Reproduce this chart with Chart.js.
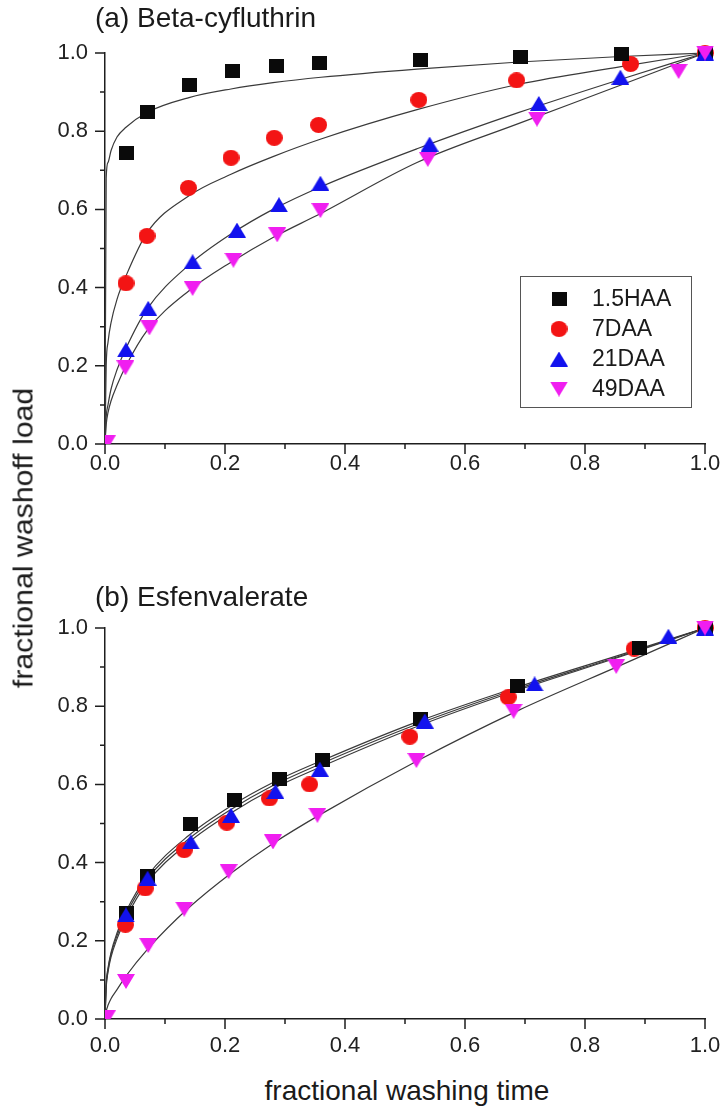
<!DOCTYPE html>
<html>
<head>
<meta charset="utf-8">
<script src="https://cdn.jsdelivr.net/npm/chart.js@4.4.1/dist/chart.umd.min.js"></script>
<style>
  html, body { margin: 0; padding: 0; background: #fff; overflow: hidden; }
  #wrap { position: relative; width: 721px; height: 1107px; overflow: hidden;
          font-family: "Liberation Sans", Arial, sans-serif; color: #1a1a1a; }
  #wrap canvas { position: absolute; left: 0; }
  .lbl { position: absolute; white-space: nowrap; line-height: 1; }
</style>
</head>
<body>
<div id="wrap">
  <canvas id="chart-a" width="740" height="490" style="top:0"></canvas>
  <canvas id="chart-b" width="740" height="500" style="top:560px"></canvas>
  <div class="lbl" style="left:95px; top:4px; font-size:28px;">(a) Beta-cyfluthrin</div>
  <div class="lbl" style="left:95px; top:583px; font-size:28px;">(b) Esfenvalerate</div>
  <div class="lbl" style="left:24px; top:538px; font-size:27px; transform:translate(-50%,-50%) rotate(-90deg) scaleX(1.12);">fractional washoff load</div>
  <div class="lbl" style="left:407px; top:1091px; font-size:28px; transform:translate(-50%,-50%);">fractional washing time</div>
</div>
<script>
// washoff curves, two panels

const seriesNames = ["1.5HAA", "7DAA", "21DAA", "49DAA"];
const seriesColors = ["#0a0a0a", "#f31414", "#1212ee", "#f01ef0"];
const majorTicks = [0, 0.2, 0.4, 0.6, 0.8, 1.0];
const tickLabels = ["0.0", "0.2", "0.4", "0.6", "0.8", "1.0"];
const minorTicks = [0.1, 0.3, 0.5, 0.7, 0.9];

// (a) Beta-cyfluthrin, measured points
const aHAAx = [0.036, 0.07, 0.141, 0.213, 0.285, 0.358, 0.525, 0.693, 0.861, 1.0];
const aHAAy = [0.743, 0.848, 0.917, 0.955, 0.966, 0.974, 0.983, 0.990, 0.997, 1.0];
const a7x   = [0.035, 0.07, 0.139, 0.21, 0.282, 0.356, 0.523, 0.686, 0.876, 1.0];
const a7y   = [0.411, 0.532, 0.655, 0.732, 0.783, 0.816, 0.880, 0.930, 0.972, 1.0];
const a21x  = [0.035, 0.072, 0.146, 0.22, 0.29, 0.359, 0.541, 0.723, 0.859, 1.0];
const a21y  = [0.241, 0.347, 0.466, 0.547, 0.612, 0.667, 0.767, 0.871, 0.938, 1.0];
const a49x  = [0.003, 0.034, 0.074, 0.146, 0.214, 0.287, 0.359, 0.538, 0.72, 0.956, 1.0];
const a49y  = [0.003, 0.195, 0.297, 0.398, 0.47, 0.535, 0.597, 0.728, 0.831, 0.953, 1.0];

// (a) fitted curves
const fitX     = [0, 0.002, 0.005, 0.01, 0.02, 0.035, 0.07, 0.14, 0.21, 0.28, 0.36, 0.52, 0.69, 0.86, 1.0];
const aFitHAA  = [0, 0.68, 0.72, 0.75, 0.785, 0.81, 0.848, 0.886, 0.908, 0.924, 0.938, 0.959, 0.977, 0.991, 1.0];
const aFit7    = [0, 0.2, 0.26, 0.31, 0.37, 0.43, 0.54, 0.635, 0.69, 0.735, 0.78, 0.855, 0.92, 0.965, 1.0];
const aFit21   = [0, 0.07, 0.1, 0.14, 0.19, 0.245, 0.345, 0.458, 0.537, 0.6, 0.658, 0.755, 0.848, 0.933, 1.0];
const aFit49   = [0, 0.05, 0.08, 0.11, 0.15, 0.2, 0.29, 0.392, 0.465, 0.528, 0.59, 0.72, 0.82, 0.918, 1.0];

// (b) Esfenvalerate, measured points
const bHAAx = [0.035, 0.071, 0.143, 0.215, 0.29, 0.362, 0.525, 0.688, 0.89, 1.0];
const bHAAy = [0.27, 0.365, 0.50, 0.56, 0.614, 0.663, 0.766, 0.851, 0.95, 1.0];
const b7x   = [0.034, 0.067, 0.132, 0.203, 0.274, 0.341, 0.508, 0.672, 0.882, 1.0];
const b7y   = [0.241, 0.334, 0.432, 0.502, 0.564, 0.600, 0.722, 0.823, 0.947, 1.0];
const b21x  = [0.035, 0.071, 0.143, 0.21, 0.284, 0.358, 0.533, 0.716, 0.939, 1.0];
const b21y  = [0.266, 0.36, 0.453, 0.521, 0.582, 0.639, 0.762, 0.857, 0.979, 1.0];
const b49x  = [0.003, 0.035, 0.072, 0.132, 0.206, 0.28, 0.354, 0.519, 0.681, 0.852, 1.0];
const b49y  = [0.003, 0.096, 0.188, 0.281, 0.377, 0.453, 0.521, 0.661, 0.787, 0.902, 1.0];

// (b) fitted curves
const bFitHAA = [0, 0.09, 0.13, 0.17, 0.22, 0.275, 0.365, 0.47, 0.545, 0.605, 0.66, 0.76, 0.85, 0.932, 1.0];
const bFit7   = [0, 0.08, 0.12, 0.158, 0.205, 0.258, 0.348, 0.452, 0.527, 0.589, 0.645, 0.748, 0.842, 0.927, 1.0];
const bFit21  = [0, 0.085, 0.125, 0.165, 0.213, 0.267, 0.357, 0.461, 0.536, 0.597, 0.653, 0.754, 0.846, 0.929, 1.0];
const bFit49  = [0, 0.02, 0.035, 0.052, 0.075, 0.11, 0.177, 0.285, 0.373, 0.449, 0.524, 0.66, 0.79, 0.905, 1.0];

const AXIS = "#1e1e1e";
const FONT = '"Liberation Sans", Arial, sans-serif';
const MARKER_SIZE = { square: [15, 14], circle: [17, 16], up: [18, 15], down: [18, 15] };
const shapes = ["square", "circle", "up", "down"];
const drawOrder = [3, 4, 2, 1];   // lower = on top

function pts(xs, ys) { return xs.map((x, i) => ({ x, y: ys[i] })); }

function marker(shape, color) {
  const [w, h] = MARKER_SIZE[shape];
  const c = document.createElement("canvas");
  c.width = w; c.height = h;
  const g = c.getContext("2d");
  g.fillStyle = color;
  g.beginPath();
  if (shape === "square") g.rect(0, 0, w, h);
  else if (shape === "circle") g.ellipse(w / 2, h / 2, w / 2, h / 2, 0, 0, Math.PI * 2);
  else if (shape === "up") { g.moveTo(w / 2, 0); g.lineTo(w, h); g.lineTo(0, h); g.closePath(); }
  else { g.moveTo(0, 0); g.lineTo(w, 0); g.lineTo(w / 2, h); g.closePath(); }
  g.fill();
  return c;
}
const markers = shapes.map((s, i) => marker(s, seriesColors[i]));

function panelDatasets(markX, markY, fitY) {
  const sets = [];
  fitY.forEach((ys, k) => sets.push({
    label: "fit " + seriesNames[k], data: pts(fitX, ys), showLine: true,
    borderColor: "#3a3a3a", borderWidth: 1.2, pointRadius: 0,
    cubicInterpolationMode: "monotone", order: 10, clip: false,
  }));
  markY.forEach((ys, k) => sets.push({
    label: seriesNames[k], data: pts(markX[k], ys), showLine: false,
    pointStyle: markers[k], pointRadius: 9, order: drawOrder[k],
    clip: { left: 0, bottom: 0, top: false, right: false },
  }));
  return sets;
}

// tick marks drawn by hand: long major, short minor, outward
const tickMarks = {
  id: "tickMarks",
  afterDraw(chart) {
    const { ctx, scales: { x, y } } = chart;
    ctx.save();
    ctx.strokeStyle = AXIS; ctx.lineWidth = 1.5;
    ctx.beginPath();
    const all = majorTicks.map(v => [v, 10]).concat(minorTicks.map(v => [v, 5]));
    all.forEach(([v, len]) => {
      const px = x.getPixelForValue(v), py = y.getPixelForValue(v);
      ctx.moveTo(px, x.top); ctx.lineTo(px, x.top + len);
      ctx.moveTo(y.right, py); ctx.lineTo(y.right - len, py);
    });
    ctx.stroke();
    ctx.restore();
  },
};

const legendBox = {
  id: "legendBox",
  afterDraw(chart) {
    const { ctx } = chart;
    ctx.save();
    ctx.strokeStyle = "#555"; ctx.lineWidth = 1;
    ctx.strokeRect(520.5, 276.5, 171, 131);
    ctx.font = "23px " + FONT;
    ctx.fillStyle = "#1a1a1a";
    ctx.textBaseline = "middle";
    seriesNames.forEach((name, i) => {
      const cy = 299 + i * 30;
      const m = markers[i];
      ctx.drawImage(m, 559 - m.width / 2, cy - m.height / 2);
      ctx.fillText(name, 592, cy + 1);
    });
    ctx.restore();
  },
};

function makePanel(id, datasets, padTop, xHeight, labelPad, extraPlugins) {
  const tickFmt = v => tickLabels[majorTicks.findIndex(t => Math.abs(t - v) < 1e-6)] ?? "";
  return new Chart(document.getElementById(id), {
    type: "scatter",
    data: { datasets },
    options: {
      responsive: false, animation: false, events: [],
      layout: { padding: { top: padTop, left: 0, right: 35, bottom: 0 } },
      plugins: { legend: { display: false }, tooltip: { enabled: false } },
      scales: {
        x: {
          type: "linear", min: 0, max: 1,
          grid: { display: false, drawTicks: false },
          border: { display: true, color: AXIS, width: 1.5 },
          ticks: { stepSize: 0.2, padding: labelPad, color: "#222", font: { family: FONT, size: 22 }, callback: tickFmt },
          afterFit: s => { s.height = xHeight; },
        },
        y: {
          type: "linear", min: 0, max: 1,
          grid: { display: false, drawTicks: false },
          border: { display: true, color: AXIS, width: 1.5 },
          ticks: { stepSize: 0.2, padding: 17, color: "#222", font: { family: FONT, size: 22 }, callback: tickFmt },
          afterFit: s => { s.width = 105; },
        },
      },
    },
    plugins: [tickMarks].concat(extraPlugins || []),
  });
}

makePanel("chart-a",
  panelDatasets([aHAAx, a7x, a21x, a49x], [aHAAy, a7y, a21y, a49y], [aFitHAA, aFit7, aFit21, aFit49]),
  53, 46, 7, [legendBox]);

makePanel("chart-b",
  panelDatasets([bHAAx, b7x, b21x, b49x], [bHAAy, b7y, b21y, b49y], [bFitHAA, bFit7, bFit21, bFit49]),
  68, 41, 14);
</script>
</body>
</html>
